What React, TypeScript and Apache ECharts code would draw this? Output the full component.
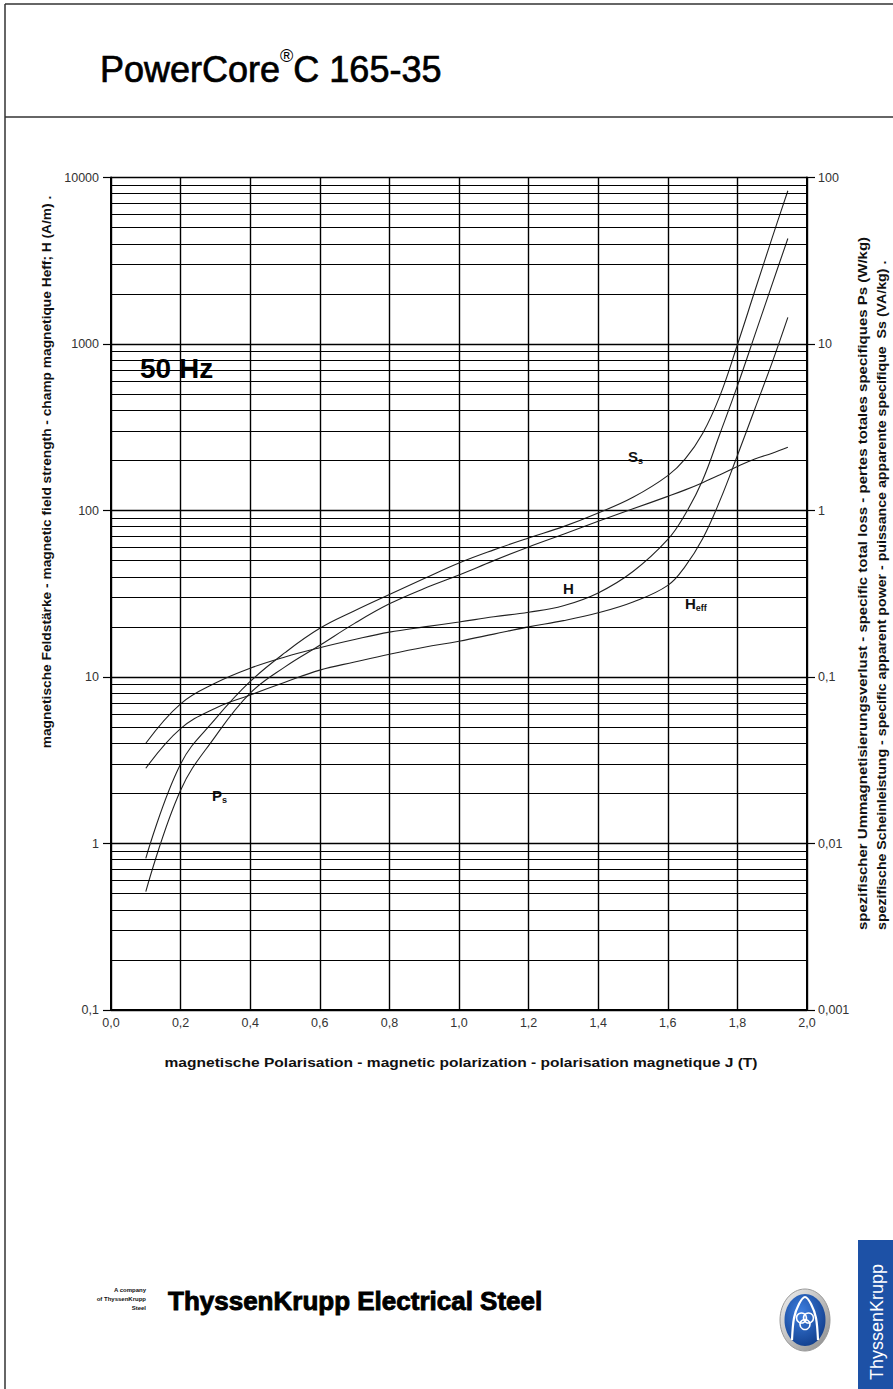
import React, { useEffect, useRef } from "react";
import * as echarts from "echarts";

const F = '"Liberation Sans", Arial, sans-serif';

// magnetic polarization J (T)
const polarizationJ = [0.1, 0.2, 0.3, 0.4, 0.5, 0.6, 0.7, 0.8, 0.9, 1.0, 1.1, 1.2, 1.3, 1.4, 1.5, 1.6, 1.65, 1.7, 1.75, 1.8, 1.85, 1.9, 1.945];
// peak field strength H (A/m)
const fieldH = [4.0, 6.9, 9.2, 11.3, 13.2, 15.0, 16.8, 18.6, 20.0, 21.4, 23.0, 24.5, 26.8, 32, 43, 67, 95, 152, 290, 560, 1130, 2290, 4300];
// rms field strength Heff (A/m)
const fieldHeff = [2.83, 4.9, 6.5, 7.8, 9.3, 11.0, 12.3, 13.7, 15.1, 16.4, 18.1, 20.0, 21.8, 24.3, 28.2, 35.5, 46.2, 67.6, 115, 214, 407, 776, 1445];
// specific total loss Ps (W/kg)
const lossPs = [0.00514, 0.0209, 0.044, 0.08, 0.115, 0.155, 0.21, 0.275, 0.34, 0.41, 0.5, 0.604, 0.72, 0.861, 1.023, 1.216, 1.33, 1.47, 1.64, 1.84, 2.04, 2.21, 2.4];
// specific apparent power Ss (VA/kg)
const powerSs = [0.00815, 0.03, 0.056, 0.094, 0.14, 0.196, 0.25, 0.313, 0.39, 0.484, 0.58, 0.684, 0.8, 0.966, 1.2, 1.62, 2.04, 2.9, 4.9, 9.9, 20.8, 43.5, 83.3];

const decades = [0.1, 1, 10, 100, 1000];
const minorMultipliers = [2, 3, 4, 5, 6, 7, 8, 9];

const fmtComma = (v: number) => String(Number(v.toPrecision(6))).replace(".", ",");

function measure(text: string, font: string) {
  const c = document.createElement("canvas").getContext("2d");
  if (!c) return text.length * 8;
  c.font = font;
  return c.measureText(text).width;
}

function subLabel(x: number, y: number, main: string, sub: string, size: number) {
  const w = measure(main, `bold ${size}px ${F}`);
  return [
    { type: "text", x, y, style: { text: main, fontSize: size, fontWeight: "bold", fontFamily: F, fill: "#111", textVerticalAlign: "middle" } },
    { type: "text", x: x + w, y: y + 5, style: { text: sub, fontSize: Math.round(size * 0.6), fontWeight: "bold", fontFamily: F, fill: "#111", textVerticalAlign: "middle" } },
  ];
}

export default function App() {
  const ref = useRef<HTMLDivElement>(null);
  useEffect(() => {
    if (!ref.current) return;
    const chart = echarts.init(ref.current, null, { renderer: "svg" });
    const minorGrid = decades.flatMap((d) => minorMultipliers.map((m) => Number((m * d).toPrecision(6))));
    const lineStyle = { color: "#000", width: 1.4 };
    const curveStyle = { color: "#222", width: 1.1 };
    const mk = (arr: number[]) => polarizationJ.map((j, i) => [j, arr[i]]);

    const titleFont = `36px ${F}`;
    const wPower = measure("PowerCore", titleFont);
    const wReg = measure("®", `18px ${F}`);
    const titleStyle = { fontSize: 36, fontFamily: F, fill: "#000", stroke: "#000", lineWidth: 0.7, textVerticalAlign: "middle" };

    const graphic: any[] = [
      { type: "line", shape: { x1: 5, y1: 4, x2: 893, y2: 4 }, style: { stroke: "#333", lineWidth: 1.5 } },
      { type: "line", shape: { x1: 5, y1: 4, x2: 5, y2: 1389 }, style: { stroke: "#333", lineWidth: 1.5 } },
      { type: "line", shape: { x1: 5, y1: 117, x2: 893, y2: 117 }, style: { stroke: "#333", lineWidth: 1.5 } },
      { type: "text", x: 100, y: 69, style: { ...titleStyle, text: "PowerCore" } },
      { type: "text", x: 100 + wPower, y: 56, style: { text: "®", fontSize: 18, fontFamily: F, fill: "#000", textVerticalAlign: "middle" } },
      { type: "text", x: 100 + wPower + wReg, y: 69, style: { ...titleStyle, text: "C 165-35" } },
      { type: "text", x: 140, y: 368, style: { text: "50 Hz", fontSize: 28, fontWeight: "bold", fontFamily: F, fill: "#000", textVerticalAlign: "middle" } },
      ...subLabel(628, 456, "S", "s", 15),
      ...subLabel(563, 588, "H", "", 15),
      ...subLabel(685, 603, "H", "eff", 15),
      ...subLabel(212, 795, "P", "s", 15),
      {
        type: "text", x: 47, y: 472, rotation: Math.PI / 2, scaleX: 1.1,
        style: { text: "magnetische Feldstärke - magnetic field strength - champ magnetique Heff; H (A/m) .", fontSize: 12.5, fontWeight: "bold", fontFamily: F, fill: "#111", textAlign: "center", textVerticalAlign: "middle" },
      },
      {
        type: "text", x: 863, y: 930, rotation: Math.PI / 2, scaleX: 1.2,
        style: { text: "spezifischer Ummagnetisierungsverlust - specific total loss - pertes totales specifiques Ps (W/kg)", fontSize: 12.5, fontWeight: "bold", fontFamily: F, fill: "#111", textAlign: "left", textVerticalAlign: "middle" },
      },
      {
        type: "text", x: 882, y: 930, rotation: Math.PI / 2, scaleX: 1.135,
        style: { text: "spezifische Scheinleistung - specific apparent power - puissance apparente specifique  Ss (VA/kg) .", fontSize: 12.5, fontWeight: "bold", fontFamily: F, fill: "#111", textAlign: "left", textVerticalAlign: "middle" },
      },
      {
        type: "text", x: 461, y: 1063, scaleX: 1.245,
        style: { text: "magnetische Polarisation - magnetic polarization - polarisation magnetique J (T)", fontSize: 12.5, fontWeight: "bold", fontFamily: F, fill: "#111", textAlign: "center", textVerticalAlign: "middle" },
      },
      // footer
      { type: "text", x: 146, y: 1290, style: { text: "A company", fontSize: 6, fontWeight: "bold", fontFamily: F, fill: "#111", textAlign: "right", textVerticalAlign: "middle" } },
      { type: "text", x: 146, y: 1299, style: { text: "of ThyssenKrupp", fontSize: 6, fontWeight: "bold", fontFamily: F, fill: "#111", textAlign: "right", textVerticalAlign: "middle" } },
      { type: "text", x: 146, y: 1308, style: { text: "Steel", fontSize: 6, fontWeight: "bold", fontFamily: F, fill: "#111", textAlign: "right", textVerticalAlign: "middle" } },
      { type: "text", x: 168, y: 1301, style: { text: "ThyssenKrupp Electrical Steel", fontSize: 26, fontWeight: "bold", fontFamily: F, fill: "#000", stroke: "#000", lineWidth: 0.9, textVerticalAlign: "middle" } },
      // round logo
      {
        type: "ellipse", shape: { cx: 805, cy: 1320, rx: 25, ry: 31 },
        style: { fill: new echarts.graphic.LinearGradient(0, 0, 1, 1, [{ offset: 0, color: "#f2f2f2" }, { offset: 1, color: "#8a8a8a" }]), stroke: "#999", lineWidth: 1 },
      },
      {
        type: "ellipse", shape: { cx: 805, cy: 1320, rx: 20.5, ry: 26 },
        style: { fill: new echarts.graphic.RadialGradient(0.4, 0.35, 0.8, [{ offset: 0, color: "#3d7fe0" }, { offset: 1, color: "#0b3580" }]) },
      },
      {
        type: "polyline", shape: { points: [[792, 1340], [794, 1318], [799, 1304], [805, 1297], [811, 1304], [816, 1318], [818, 1340]], smooth: 0.3 },
        style: { stroke: "#fff", lineWidth: 2.2, fill: null },
      },
      { type: "circle", shape: { cx: 801.5, cy: 1318, r: 5 }, style: { stroke: "#fff", lineWidth: 1.6, fill: null } },
      { type: "circle", shape: { cx: 808.5, cy: 1318, r: 5 }, style: { stroke: "#fff", lineWidth: 1.6, fill: null } },
      { type: "circle", shape: { cx: 805, cy: 1324.5, r: 5 }, style: { stroke: "#fff", lineWidth: 1.6, fill: null } },
      // blue brand box
      { type: "rect", shape: { x: 858, y: 1240, width: 40, height: 149 }, style: { fill: "#1d51a6" } },
      {
        type: "text", x: 877, y: 1322, rotation: Math.PI / 2,
        style: { text: "ThyssenKrupp", fontSize: 18, fontFamily: F, fill: "#fff", textAlign: "center", textVerticalAlign: "middle" },
      },
    ];

    chart.setOption({
      animation: false,
      backgroundColor: "#fff",
      grid: { left: 111, top: 177.5, width: 696, height: 832.5 },
      xAxis: {
        type: "value", min: 0, max: 2, interval: 0.2,
        axisLine: { show: true, lineStyle: { color: "#000", width: 2 } },
        axisTick: { show: false },
        splitLine: { show: true, lineStyle },
        axisLabel: { formatter: (v: number) => v.toFixed(1).replace(".", ","), color: "#333", fontSize: 12.5, fontFamily: F, margin: 6 },
      },
      yAxis: [
        {
          type: "log", logBase: 10, min: 0.1, max: 10000, splitNumber: 5,
          axisLine: { show: true, lineStyle: { color: "#000", width: 2 } },
          axisTick: { show: true, inside: false, length: 8, lineStyle: { color: "#000", width: 1.2 } },
          splitLine: { show: true, lineStyle },
          minorTick: { show: false },
          axisLabel: { formatter: fmtComma, color: "#333", fontSize: 12.5, fontFamily: F, margin: 12 },
        },
        {
          type: "log", logBase: 10, min: 0.001, max: 100, splitNumber: 5, position: "right",
          axisLine: { show: true, lineStyle: { color: "#000", width: 2 } },
          axisTick: { show: true, inside: false, length: 8, lineStyle: { color: "#000", width: 1.2 } },
          splitLine: { show: false },
          axisLabel: { formatter: fmtComma, color: "#333", fontSize: 12.5, fontFamily: F, margin: 11 },
        },
      ],
      series: [
        {
          name: "H", type: "line", yAxisIndex: 0, data: mk(fieldH), smooth: 0.4, showSymbol: false, lineStyle: curveStyle, silent: true,
          markLine: {
            silent: true, symbol: ["none", "none"], label: { show: false },
            lineStyle: { color: "#000", width: 1.2, type: "solid" },
            data: minorGrid.map((v) => ({ yAxis: v })),
          },
        },
        { name: "Heff", type: "line", yAxisIndex: 0, data: mk(fieldHeff), smooth: 0.4, showSymbol: false, lineStyle: curveStyle, silent: true },
        { name: "Ps", type: "line", yAxisIndex: 1, data: mk(lossPs), smooth: 0.4, showSymbol: false, lineStyle: curveStyle, silent: true },
        { name: "Ss", type: "line", yAxisIndex: 1, data: mk(powerSs), smooth: 0.4, showSymbol: false, lineStyle: curveStyle, silent: true },
      ],
      graphic,
    });
    return () => chart.dispose();
  }, []);
  return (
    <div
      ref={ref}
      style={{ position: "absolute", left: 0, top: 0, width: 893, height: 1389, background: "#fff" }}
    />
  );
}
